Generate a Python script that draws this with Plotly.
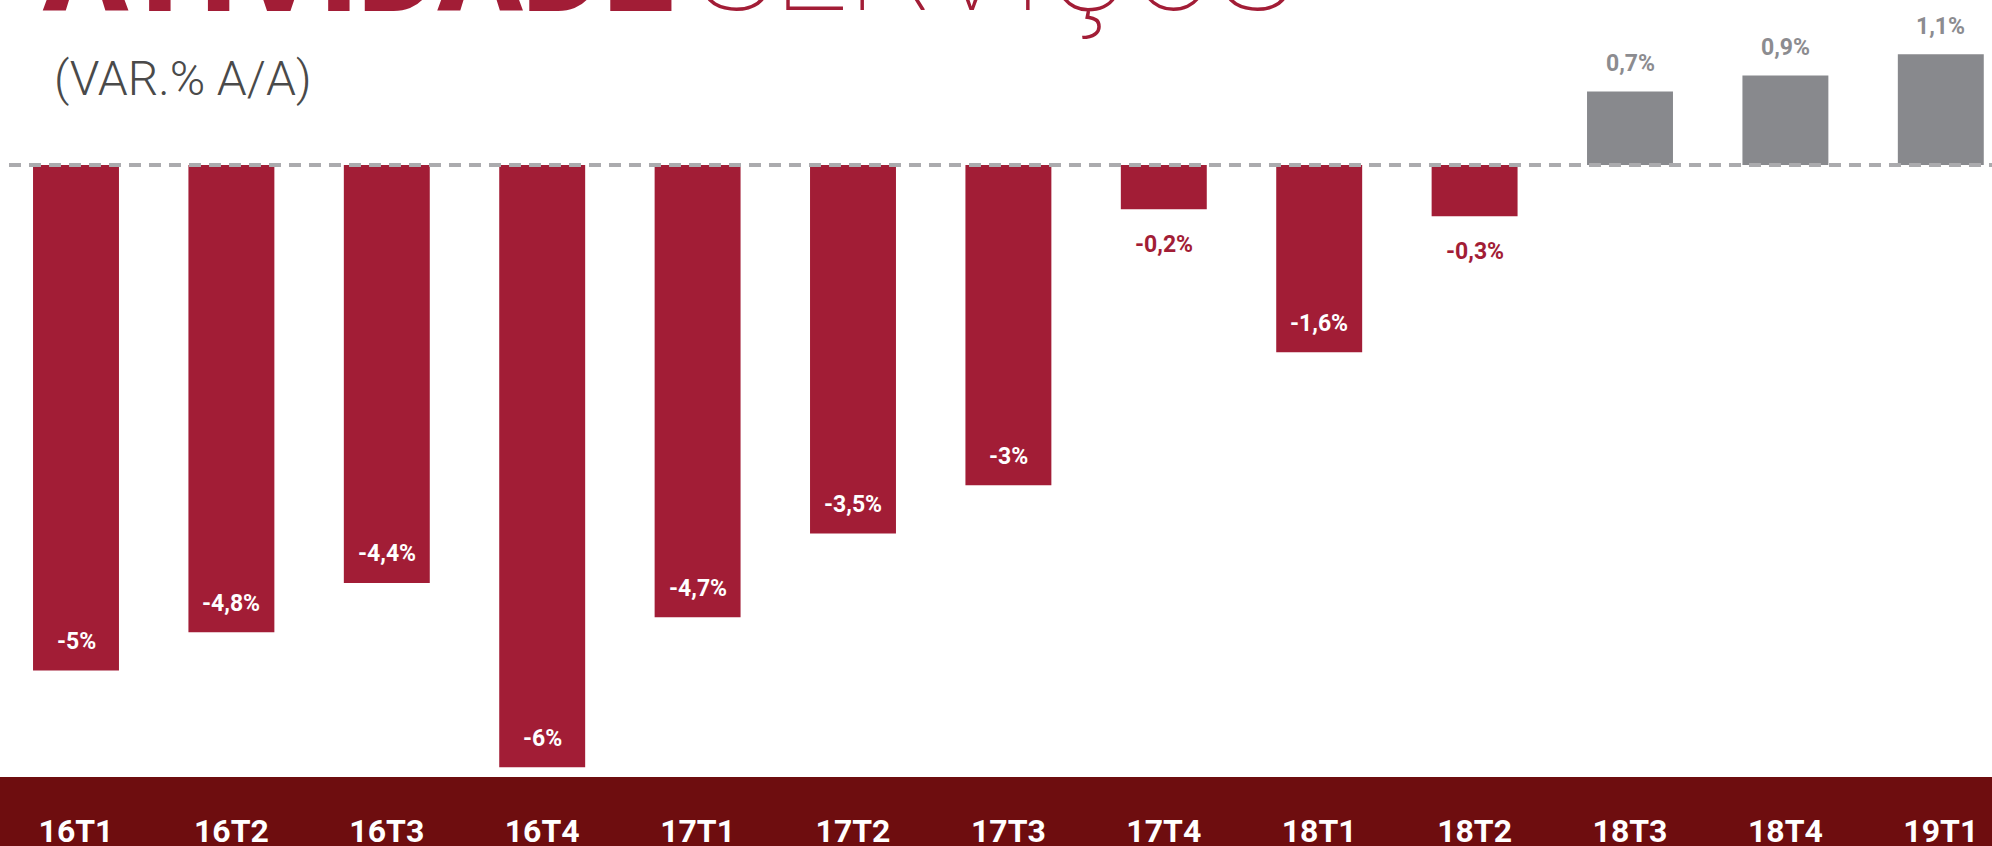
import plotly.graph_objects as go

# ── data ──────────────────────────────────────────────────────────────────────
QUARTERS = ["16T1", "16T2", "16T3", "16T4", "17T1", "17T2", "17T3",
            "17T4", "18T1", "18T2", "18T3", "18T4", "19T1"]
VAR_YOY = [-5.02, -4.64, -4.15, -5.98, -4.49, -3.66, -3.18,
           -0.44, -1.86, -0.51, 0.73, 0.89, 1.10]
LABELS = ["-5%", "-4,8%", "-4,4%", "-6%", "-4,7%", "-3,5%", "-3%",
          "-0,2%", "-1,6%", "-0,3%", "0,7%", "0,9%", "1,1%"]

# ── palette ───────────────────────────────────────────────────────────────────
RED = "#A21D36"
GREY = "#88898D"
BAND = "#6E0D0F"
DASH = "#ABABAE"

W, H = 1992, 846

bar_colors = [RED if v < 0 else GREY for v in VAR_YOY]

fig = go.Figure()
fig.add_trace(go.Bar(
    x=QUARTERS, y=VAR_YOY,
    marker=dict(color=bar_colors, line_width=0),
    width=0.553,
    hoverinfo="skip",
))

# value labels, placed relative to each bar end
annotations = []
for q, v, lab in zip(QUARTERS, VAR_YOY, LABELS):
    if v > 0:
        color, shift = "#8C8C90", 28
    elif v > -1:
        color, shift = RED, -35
    else:
        color, shift = "#FFFFFF", 29
    annotations.append(dict(
        x=q, y=v, text=lab, showarrow=False, yshift=shift,
        xanchor="center", yanchor="middle",
        font=dict(family="Roboto", size=23, color=color, weight=700),
    ))

# title (cut off by the top edge, as in the original slide)
annotations += [
    dict(xref="paper", yref="paper", x=40 / W, y=1 - 44 / H,
         xanchor="left", yanchor="bottom", showarrow=False,
         text="ATIVIDADE",
         font=dict(family="Roboto", size=125, color=RED, weight=900)),
    dict(xref="paper", yref="paper", x=694 / W, y=1 - 44 / H,
         xanchor="left", yanchor="bottom", showarrow=False,
         text="SERVIÇOS",
         font=dict(family="Roboto", size=131, color=RED, weight=100)),
    dict(xref="paper", yref="paper", x=52 / W, y=1 - 78 / H,
         xanchor="left", yanchor="middle", showarrow=False,
         text="(VAR.% A/A)",
         font=dict(family="Roboto", size=48, color="#4A4A4A", weight=300)),
]

shapes = [
    # dark footer band behind the quarter labels
    dict(type="rect", xref="paper", yref="paper", x0=0, x1=1,
         y0=0, y1=(H - 777) / H, fillcolor=BAND, line_width=0, layer="below"),
    # dashed zero line
    dict(type="line", xref="paper", yref="y", x0=9 / W, x1=1, y0=0, y1=0,
         line=dict(color=DASH, width=4, dash="12px,8px"), layer="above"),
]

px_per_unit = 100.7
zero_px = 165
fig.update_layout(
    width=W, height=H,
    margin=dict(l=0, r=0, t=0, b=0, autoexpand=False),
    paper_bgcolor="#FFFFFF", plot_bgcolor="#FFFFFF",
    showlegend=False,
    annotations=annotations,
    shapes=shapes,
    xaxis=dict(
        range=[-76 / 155.4, (W - 76) / 155.4],
        showgrid=False, zeroline=False, showline=False, ticks="",
        automargin=False,
        ticklabelposition="inside", ticklabelstandoff=-5,
        tickfont=dict(family="Roboto", size=32, color="#FFFFFF", weight=700),
    ),
    yaxis=dict(
        range=[-(H - zero_px) / px_per_unit, zero_px / px_per_unit],
        visible=False, automargin=False,
    ),
)

# the page's default body margin would shift the figure and add scrollbars
fig.write_html(
    "out.html",
    config={"displayModeBar": False},
    post_script="document.body.style.margin='0';document.body.style.overflow='hidden';",
)
